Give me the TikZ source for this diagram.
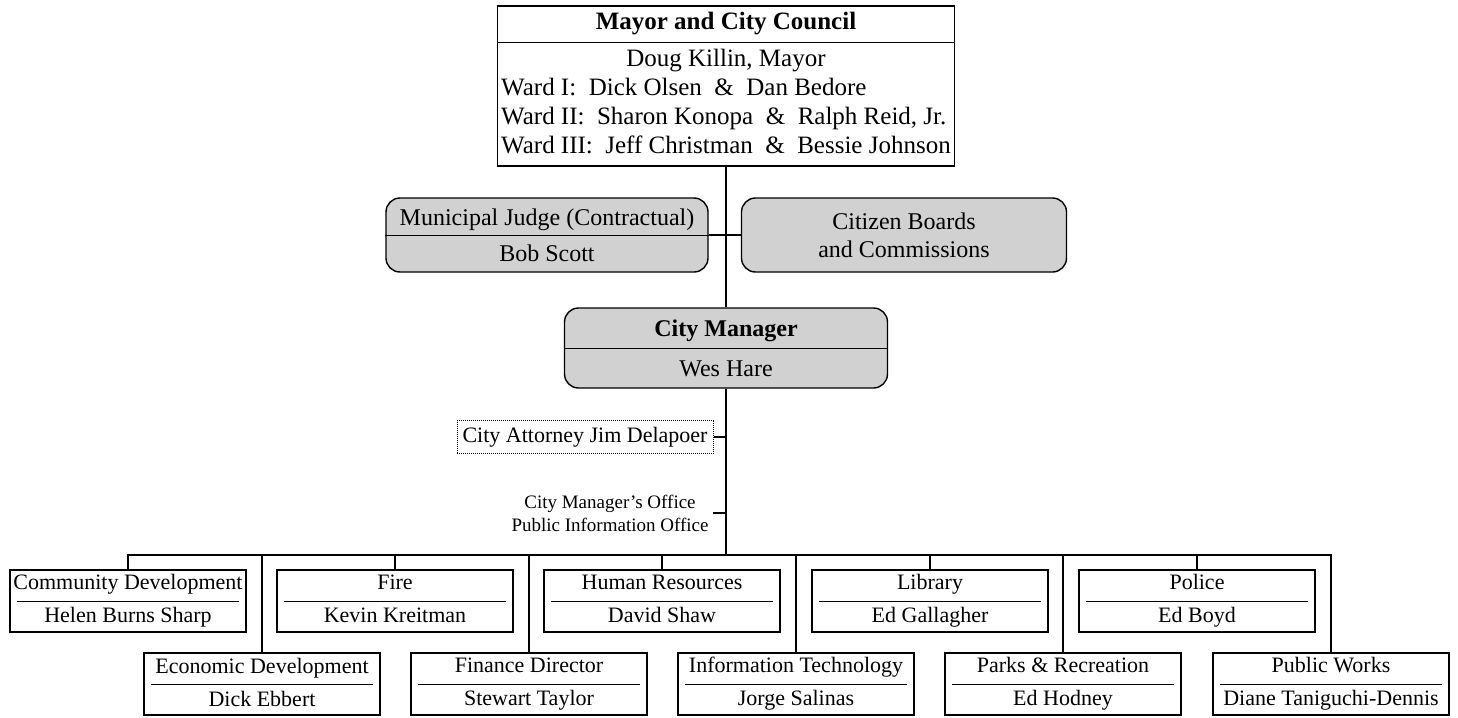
\documentclass[tikz,border=0pt]{standalone}
\usepackage{fontspec}
\setmainfont{Liberation Serif}
\usetikzlibrary{positioning}

\begin{document}
\begin{tikzpicture}[x=1pt, y=-1pt,
  office/.style={draw, line width=1.2pt, minimum width=236pt, minimum height=62pt,
    inner sep=1pt, align=center, font=\fontsize{22}{33}\selectfont,
    execute at begin node=\rule{0pt}{22pt}, execute at end node=\rule[-4pt]{0pt}{4pt}},
  shaded/.style={draw, line width=1.4pt, rounded corners=14pt, fill=black!18,
    align=center, font=\fontsize{24}{30}\selectfont},
  link/.style={line width=1.1pt},
  divider/.style={line width=0.9pt}]
  \useasboundingbox (0,0) rectangle (1458,717);

  % Mayor and council
  \node[draw, line width=1.8pt, minimum width=457pt, minimum height=160pt, inner sep=3pt,
    font=\fontsize{25}{29}\selectfont] (council) at (726,86)
    {\begin{tabular}{@{}l@{}}
      \multicolumn{1}{@{}c@{}}{\textbf{Mayor and City Council}}\\[8pt]
      \multicolumn{1}{@{}c@{}}{Doug Killin, Mayor}\\
      Ward I:~~Dick Olsen ~\&~ Dan Bedore\\
      Ward II:~~Sharon Konopa ~\&~ Ralph Reid, Jr.\\
      Ward III:~~Jeff Christman ~\&~ Bessie Johnson
    \end{tabular}};
  \draw[divider] ([yshift=-37pt]council.north west) -- ([yshift=-37pt]council.north east);

  % Judge and boards
  \node[shaded, minimum width=322pt, minimum height=74pt] (judge) at (547,235)
    {Municipal Judge (Contractual)\\[6pt]Bob Scott};
  \draw[divider] (judge.west) -- (judge.east);
  \node[shaded, minimum width=325pt, minimum height=74pt, font=\fontsize{24}{28}\selectfont]
    (boards) at (904,235) {Citizen Boards\\and Commissions};

  % City manager
  \node[shaded, minimum width=323pt, minimum height=80pt] (manager) at (726,348)
    {\textbf{City Manager}\\[10pt]Wes Hare};
  \draw[divider] (manager.west) -- (manager.east);

  % Attorney and offices
  \node[draw, densely dotted, line width=1pt, minimum width=256pt, minimum height=33pt,
    font=\fontsize{22}{26}\selectfont] (attorney) at (585,437) {City Attorney Jim Delapoer};
  \node[align=center, font=\fontsize{19}{23}\selectfont] (staff) at (610,513)
    {City Manager's Office\\Public Information Office};

  % Departments, top row
  \node[office] (community) at (128,601) {Community Development\\Helen Burns Sharp};
  \node[office] (fire) at (395,601) {Fire\\Kevin Kreitman};
  \node[office] (hr) at (662,601) {Human Resources\\David Shaw};
  \node[office] (library) at (930,601) {Library\\Ed Gallagher};
  \node[office] (police) at (1197,601) {Police\\Ed Boyd};

  % Departments, bottom row
  \node[office] (economic) at (262,684) {Economic Development\\Dick Ebbert};
  \node[office] (finance) at (529,684) {Finance Director\\Stewart Taylor};
  \node[office] (it) at (796,684) {Information Technology\\Jorge Salinas};
  \node[office] (parks) at (1063,684) {Parks \& Recreation\\Ed Hodney};
  \node[office] (works) at (1331,684) {Public Works\\Diane Taniguchi-Dennis};

  \foreach \n in {community,fire,hr,library,police,economic,finance,it,parks,works}
    \draw[divider] ([xshift=8pt]\n.west) -- ([xshift=-8pt]\n.east);

  % Lines
  \coordinate (bus) at (726,555);
  \coordinate (tick) at (713,513);
  \draw[link] (council.south) -- (manager.north);
  \draw[link] (judge.east) -- (boards.west);
  \draw[link] (manager.south) -- (bus);
  \draw[link] (attorney.east) -- (attorney.east -| manager.south);
  \draw[link] (tick) -- (tick -| bus);
  \draw[link] (community.north) |- (bus) -| (works.north);
  \foreach \n in {economic,fire,finance,hr,it,library,parks,police}
    \draw[link] (\n.north) -- (\n.north |- bus);
\end{tikzpicture}
\end{document}
